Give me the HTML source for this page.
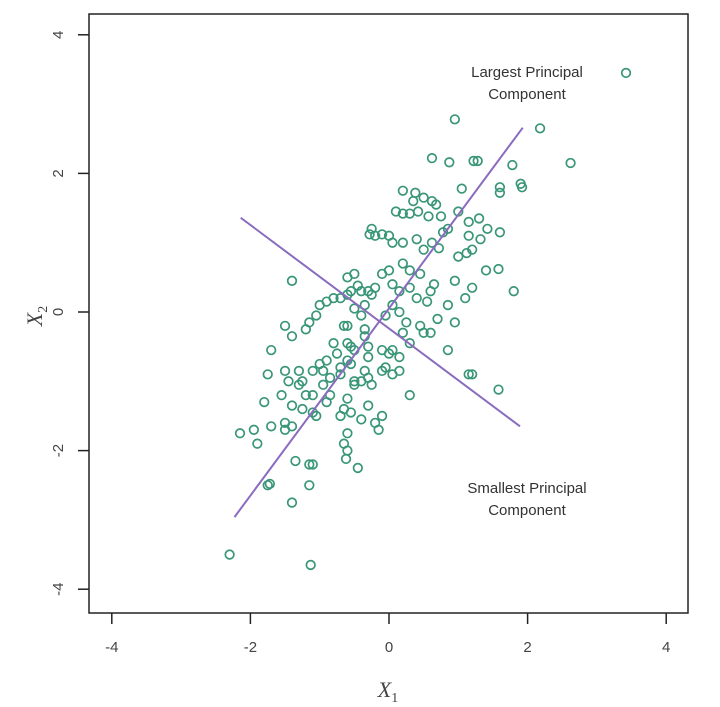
<!DOCTYPE html>
<html><head><meta charset="utf-8"><style>
html,body{margin:0;padding:0;background:#fff;width:720px;height:707px;overflow:hidden}
svg text{font-family:"Liberation Sans",sans-serif}
</style></head><body>
<svg id="chart" width="720" height="707" viewBox="0 0 720 707" xmlns="http://www.w3.org/2000/svg">
<rect x="89" y="14" width="599" height="599" fill="none" stroke="#222" stroke-width="1.5"/>
<g id="xticks"></g>
<g id="yticks"></g>
<g id="points"></g>
<g id="lines"></g>
<text x="388" y="697" font-family="Liberation Serif,serif" font-style="italic" font-size="22" fill="#444" text-anchor="middle" style="font-family:'Liberation Serif',serif">X<tspan font-size="14" dy="5" font-style="normal">1</tspan></text>
<text transform="translate(42,316) rotate(-90)" font-size="22" font-style="italic" fill="#444" text-anchor="middle" style="font-family:'Liberation Serif',serif">X<tspan font-size="14" dy="5" font-style="normal">2</tspan></text>
<text x="527" y="77" font-size="15" fill="#333" text-anchor="middle">Largest Principal</text>
<text x="527" y="99" font-size="15" fill="#333" text-anchor="middle">Component</text>
<text x="527" y="493" font-size="15" fill="#333" text-anchor="middle">Smallest Principal</text>
<text x="527" y="515" font-size="15" fill="#333" text-anchor="middle">Component</text>
</svg>
<script>
const xTickValues=[-4,-2,0,2,4];
const yTickValues=[-4,-2,0,2,4];
const pointsX=[3.42,0.95,2.18,2.62,1.22,1.28,0.62,0.87,1.78,1.9,1.92,1.6,1.6,1.05,0.2,0.38,0.5,0.35,0.62,0.68,0.1,0.2,0.3,0.42,0.57,0.75,1.0,1.15,1.3,1.42,1.6,1.32,1.15,0.85,0.78,0.62,0.4,0.0,-0.25,-0.2,-0.28,-0.1,0.05,0.2,0.5,0.72,1.0,1.12,1.2,1.4,1.58,1.8,1.2,1.1,0.95,0.85,0.6,0.65,0.45,0.3,0.2,0.0,-0.1,-0.2,0.05,0.15,0.3,0.4,0.55,0.7,0.95,1.2,0.6,0.45,0.25,0.15,0.05,-0.05,0.2,0.3,0.05,0.15,0.0,-0.1,0.5,0.85,1.15,1.58,0.3,0.15,0.05,-0.05,-0.1,-0.1,-0.2,-0.15,-0.3,
-0.6,-0.5,-0.45,-0.55,-0.6,-0.7,-0.8,-0.4,-0.3,-0.25,-0.35,-0.5,-0.4,-0.6,-0.65,-0.9,-1.0,-1.05,-1.4,-1.15,-1.2,-1.5,-1.7,-1.4,-0.35,-0.35,-0.3,-0.3,-0.35,-0.3,-0.5,-0.55,-0.6,-0.8,-0.75,-0.6,-0.55,-0.7,-0.9,-1.0,-0.95,-0.85,-1.1,-1.3,-1.5,-1.45,-1.3,-1.25,-1.55,-1.2,-1.1,-0.95,-0.7,-0.5,-0.4,-0.25,-0.5,-0.6,-0.65,-0.7,-0.55,-0.9,-1.05,-1.1,-1.25,-1.4,-1.5,-1.4,-1.5,-1.7,-1.95,-1.9,-2.15,-1.8,-1.75,-0.6,-0.65,-0.6,-0.62,-0.45,-1.1,-1.15,-1.35,-1.15,-1.75,-1.72,-1.4,-2.3,-1.13,-0.85,-0.4];
const pointsY=[3.45,2.78,2.65,2.15,2.18,2.18,2.22,2.16,2.12,1.85,1.8,1.8,1.72,1.78,1.75,1.72,1.65,1.6,1.6,1.55,1.45,1.42,1.42,1.45,1.38,1.38,1.45,1.3,1.35,1.2,1.15,1.05,1.1,1.2,1.15,1.0,1.05,1.1,1.2,1.1,1.12,1.12,1.0,1.0,0.9,0.92,0.8,0.85,0.9,0.6,0.62,0.3,0.35,0.2,0.45,0.1,0.3,0.4,0.55,0.6,0.7,0.6,0.55,0.35,0.4,0.3,0.35,0.2,0.15,-0.1,-0.15,-0.9,-0.3,-0.2,-0.15,0.0,0.1,-0.05,-0.3,-0.45,-0.55,-0.65,-0.6,-0.55,-0.3,-0.55,-0.9,-1.12,-1.2,-0.85,-0.9,-0.8,-0.85,-1.5,-1.6,-1.7,-1.35,
0.5,0.55,0.38,0.3,0.25,0.2,0.2,0.3,0.3,0.25,0.1,0.05,-0.05,-0.2,-0.2,0.15,0.1,-0.05,0.45,-0.15,-0.25,-0.2,-0.55,-0.35,-0.25,-0.35,-0.5,-0.65,-0.85,-0.95,-0.55,-0.5,-0.45,-0.45,-0.6,-0.7,-0.75,-0.8,-0.7,-0.75,-0.85,-0.95,-0.85,-0.85,-0.85,-1.0,-1.05,-1.0,-1.2,-1.2,-1.2,-1.05,-0.9,-1.0,-1.0,-1.05,-1.05,-1.25,-1.4,-1.5,-1.45,-1.3,-1.5,-1.45,-1.4,-1.35,-1.6,-1.65,-1.7,-1.65,-1.7,-1.9,-1.75,-1.3,-0.9,-1.75,-1.9,-2.0,-2.12,-2.25,-2.2,-2.2,-2.15,-2.5,-2.5,-2.48,-2.75,-3.5,-3.65,-1.2,-1.55];
const pc1X=[-2.23,1.93], pc1Y=[-2.96,2.66];
const pc2X=[-2.14,1.89], pc2Y=[1.36,-1.65];

const NS="http://www.w3.org/2000/svg";
function sx(v){return 389+v*69.3;}
function sy(v){return 312-v*69.3;}
function mk(tag,attrs,parent){const e=document.createElementNS(NS,tag);for(const k in attrs)e.setAttribute(k,attrs[k]);parent.appendChild(e);return e;}
const xg=document.getElementById('xticks'), yg=document.getElementById('yticks');
xTickValues.forEach(v=>{
  const t=mk('line',{x1:sx(v),x2:sx(v),y1:613,y2:624,stroke:'#222','stroke-width':1.5},xg);
  
  
  const l=mk('text',{x:sx(v),y:652,'font-size':15,fill:'#444','text-anchor':'middle'},xg);
  l.textContent=v;
  
  
});
yTickValues.forEach(v=>{
  const t=mk('line',{x1:78,x2:89,y1:sy(v),y2:sy(v),stroke:'#222','stroke-width':1.5},yg);
  
  
  const l=mk('text',{transform:'translate(63,'+sy(v)+') rotate(-90)','font-size':15,fill:'#444','text-anchor':'middle'},yg);
  l.textContent=v;
  
  
});
const pg=document.getElementById('points');
for(let i=0;i<pointsX.length;i++){
  const c=mk('circle',{cx:sx(pointsX[i]),cy:sy(pointsY[i]),r:4.3,fill:'none',stroke:'#3a9678','stroke-width':1.7},pg);
  
  
}
const lg=document.getElementById('lines');
const l1=mk('line',{x1:sx(pc1X[0]),y1:sy(pc1Y[0]),x2:sx(pc1X[1]),y2:sy(pc1Y[1]),stroke:'#8a6bbf','stroke-width':2},lg);


const l2=mk('line',{x1:sx(pc2X[0]),y1:sy(pc2Y[0]),x2:sx(pc2X[1]),y2:sy(pc2Y[1]),stroke:'#8a6bbf','stroke-width':2},lg);


</script>
</body></html>
